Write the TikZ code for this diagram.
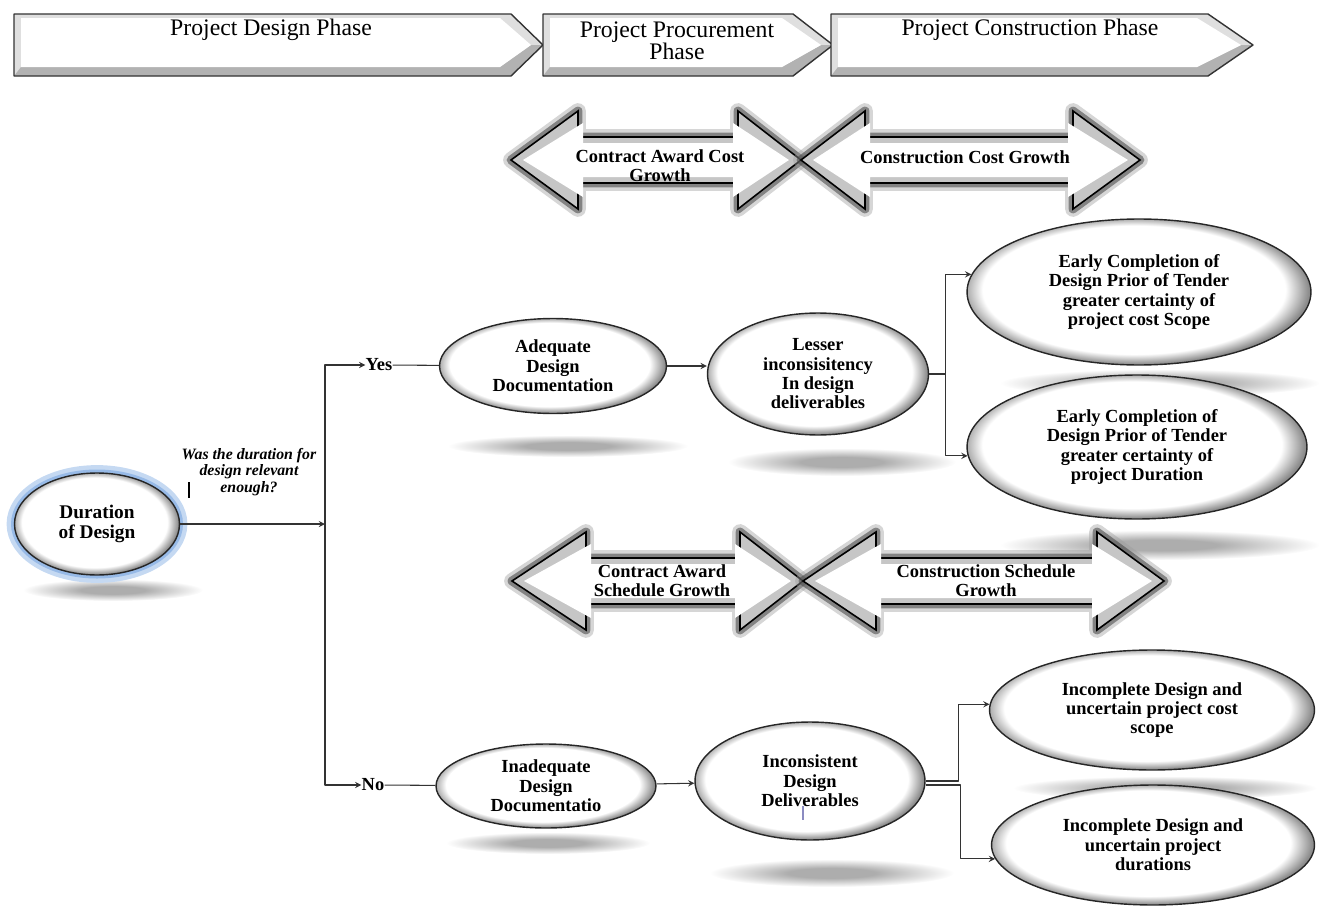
\documentclass[tikz,border=0pt]{standalone}
\usepackage{fontspec}
\setmainfont{Liberation Serif}
\usetikzlibrary{shapes.geometric}
\definecolor{bevelgray}{gray}{0.55}
\definecolor{shadowgray}{gray}{0.68}
\definecolor{glowblue}{RGB}{140,178,228}
\pgfdeclareradialshading{bevel}{\pgfpoint{-1.3bp}{1.3bp}}{color(0bp)=(white); color(22bp)=(white); color(25.3bp)=(bevelgray); color(50bp)=(bevelgray)}
\pgfdeclareradialshading{softshadow}{\pgfpointorigin}{color(0bp)=(shadowgray); color(9bp)=(shadowgray); color(25bp)=(white); color(50bp)=(white)}
\begin{document}
\begin{tikzpicture}[x=0.02cm, y=-0.02cm, >=stealth, line join=round,
		phase/.style={font=\fontsize{13.5}{12.5}\selectfont, align=center, inner sep=0pt},
		bubble/.style={ellipse, draw=black!85, line width=.8pt, shade, shading=bevel, align=center, inner sep=0pt, font=\bfseries\fontsize{10.5}{11}\selectfont},
		growth/.style={preaction={draw=black!40, line width=9pt, opacity=.4}, preaction={draw=black!70, line width=5pt, opacity=.6}, fill=gray!45, draw=black, line width=.9pt, line join=miter},
		lbl/.style={font=\bfseries\fontsize{10.5}{11}\selectfont, align=center, inner sep=0pt},
		conn/.style={draw=black!80, line width=.6pt},
		groundshadow/.style={shade, shading=softshadow}]
		\useasboundingbox (0,0) rectangle (1319,906);
		% shadows under the bubbles
		\shade[groundshadow] (113,590) ellipse [x radius=90, y radius=11];
		\shade[groundshadow] (568,446) ellipse [x radius=120, y radius=11];
		\shade[groundshadow] (842,462) ellipse [x radius=114, y radius=14];
		\shade[groundshadow] (1160,383) ellipse [x radius=160, y radius=14];
		\shade[groundshadow] (1160,545) ellipse [x radius=160, y radius=15];
		\shade[groundshadow] (548,843) ellipse [x radius=102, y radius=11];
		\shade[groundshadow] (832,873) ellipse [x radius=122, y radius=14];
		\shade[groundshadow] (1165,788) ellipse [x radius=152, y radius=12];
		% phases
		\fill[gray!25] (14,14) -- (511,14) -- (543,45) -- (511,76) -- (14,76) -- cycle;
		\fill[gray!60] (14,76) -- (511,76) -- (543,45) -- (531,45) -- (500,67) -- (21,67) -- cycle;
		\fill[white] (21,18) -- (500,18) -- (531,45) -- (500,67) -- (21,67) -- cycle;
		\draw[black!80, line width=.8pt] (14,14) -- (511,14) -- (543,45) -- (511,76) -- (14,76) -- cycle;
		\fill[gray!25] (543,14) -- (793,14) -- (833,45) -- (793,76) -- (543,76) -- cycle;
		\fill[gray!60] (543,76) -- (793,76) -- (833,45) -- (821,45) -- (782,67) -- (550,67) -- cycle;
		\fill[white] (550,18) -- (782,18) -- (821,45) -- (782,67) -- (550,67) -- cycle;
		\draw[black!80, line width=.8pt] (543,14) -- (793,14) -- (833,45) -- (793,76) -- (543,76) -- cycle;
		\fill[gray!25] (831,14) -- (1208,14) -- (1253,45) -- (1208,76) -- (831,76) -- cycle;
		\fill[gray!60] (831,76) -- (1208,76) -- (1253,45) -- (1241,45) -- (1197,67) -- (838,67) -- cycle;
		\fill[white] (838,18) -- (1197,18) -- (1241,45) -- (1197,67) -- (838,67) -- cycle;
		\draw[black!80, line width=.8pt] (831,14) -- (1208,14) -- (1253,45) -- (1208,76) -- (831,76) -- cycle;
		\node[phase] (pd) at (271,30) {Project Design Phase};
		\node[phase] (pp) at (677,41) {Project Procurement\\Phase};
		\node[phase] (pc) at (1030,30) {Project Construction Phase};
		% cost growth
		\draw[growth] (511,160) -- ++(67,-49) -- ++(0,26) -- ++(160,0) -- ++(0,-26) -- ++(63,49) -- ++(-63,49) -- ++(0,-26) -- ++(-160,0) -- ++(0,26) -- cycle;
		\fill[white] (523,160) -- ++(60,-37) -- ++(0,20) -- ++(150,0) -- ++(0,-20) -- ++(56,37) -- ++(-56,37) -- ++(0,-20) -- ++(-150,0) -- ++(0,20) -- cycle;
		\draw[growth] (801,160) -- ++(64,-49) -- ++(0,26) -- ++(208,0) -- ++(0,-26) -- ++(67,49) -- ++(-67,49) -- ++(0,-26) -- ++(-208,0) -- ++(0,26) -- cycle;
		\fill[white] (813,160) -- ++(57,-37) -- ++(0,20) -- ++(198,0) -- ++(0,-20) -- ++(60,37) -- ++(-60,37) -- ++(0,-20) -- ++(-198,0) -- ++(0,20) -- cycle;
		\node[lbl] (ca) at (660,166) {Contract Award Cost\\Growth};
		\node[lbl] (cc) at (965,157) {Construction Cost Growth};
		% schedule growth
		\draw[growth] (512,581) -- ++(74,-49) -- ++(0,26) -- ++(154,0) -- ++(0,-26) -- ++(63,49) -- ++(-63,49) -- ++(0,-26) -- ++(-154,0) -- ++(0,26) -- cycle;
		\fill[white] (524,581) -- ++(67,-37) -- ++(0,20) -- ++(144,0) -- ++(0,-20) -- ++(56,37) -- ++(-56,37) -- ++(0,-20) -- ++(-144,0) -- ++(0,20) -- cycle;
		\draw[growth] (803,581) -- ++(73,-49) -- ++(0,26) -- ++(221,0) -- ++(0,-26) -- ++(67,49) -- ++(-67,49) -- ++(0,-26) -- ++(-221,0) -- ++(0,26) -- cycle;
		\fill[white] (815,581) -- ++(66,-37) -- ++(0,20) -- ++(211,0) -- ++(0,-20) -- ++(60,37) -- ++(-60,37) -- ++(0,-20) -- ++(-211,0) -- ++(0,20) -- cycle;
		\node[lbl] (sa) at (662,581) {Contract Award\\Schedule Growth};
		\node[lbl] (sc) at (986,581) {Construction Schedule\\Growth};
		% bubbles
		\node[bubble, minimum width=3.3cm, minimum height=2.04cm, font=\bfseries\fontsize{11}{11.3}\selectfont, preaction={draw=glowblue!50, line width=9pt}, preaction={draw=glowblue!90, line width=4pt}] (dur) at (97,524) {Duration\\of Design};
		\node[bubble, minimum width=4.54cm, minimum height=1.9cm] (adq) at (553,366) {Adequate\\Design\\Documentation};
		\node[bubble, minimum width=4.42cm, minimum height=2.44cm] (les) at (818,374) {Lesser\\inconsisitency\\In design\\deliverables};
		\node[bubble, minimum width=6.88cm, minimum height=2.92cm] (ec1) at (1139,292) {Early Completion of\\Design Prior of Tender\\greater certainty of\\project cost Scope};
		\node[bubble, minimum width=6.8cm, minimum height=2.88cm] (ec2) at (1137,447) {Early Completion of\\Design Prior of Tender\\greater certainty of\\project Duration};
		\node[bubble, minimum width=4.4cm, minimum height=1.68cm] (inq) at (546,786) {Inadequate\\Design\\Documentatio};
		\node[bubble, minimum width=4.6cm, minimum height=2.36cm] (inc) at (810,781) {Inconsistent\\Design\\Deliverables};
		\node[bubble, minimum width=6.5cm, minimum height=2.4cm] (inc1) at (1152,710) {Incomplete Design and\\uncertain project cost\\scope};
		\node[bubble, minimum width=6.46cm, minimum height=2.4cm] (inc2) at (1153,845) {Incomplete Design and\\uncertain project\\durations};
		\node[font=\bfseries\itshape\fontsize{9}{9.6}\selectfont, align=center, inner sep=0pt] (qn) at (249,472) {Was the duration for\\design relevant\\enough?};
		\node[lbl] (yes) at (379,365) {Yes};
		\node[lbl] (no) at (373,785) {No};
		% connectors
		\coordinate (top) at (325,365);
		\coordinate (bot) at (325,785);
		\draw[conn, <->] (yes) -- (top) -- (bot) -- (no);
		\draw[conn, ->] (dur.east) -- (dur.east -| top);
		\draw[conn] (yes) -- (adq);
		\draw[conn] (no) -- (inq);
		\draw[conn, ->] (adq.east) -- (adq.east -| les.west);
		\draw[conn] (les.east) -- ++(16,0) coordinate (fork);
		\draw[conn, ->] (fork) |- (ec1.174);
		\draw[conn, ->] (fork) |- (ec2.183);
		\draw[conn, ->] (inq) -- (inc);
		\draw[conn, ->] (inc.east) -- ++(33,0) |- (inc1.178);
		\draw[conn, ->] ([shift={(0,4)}]inc.east) -- ++(35,0) |- (inc2.185);
		\draw[line width=1.3pt] (189,482) -- (189,498);
		\draw[blue!30!gray!70, line width=1pt] (803,806) -- (803,820);
	\end{tikzpicture}
\end{document}
